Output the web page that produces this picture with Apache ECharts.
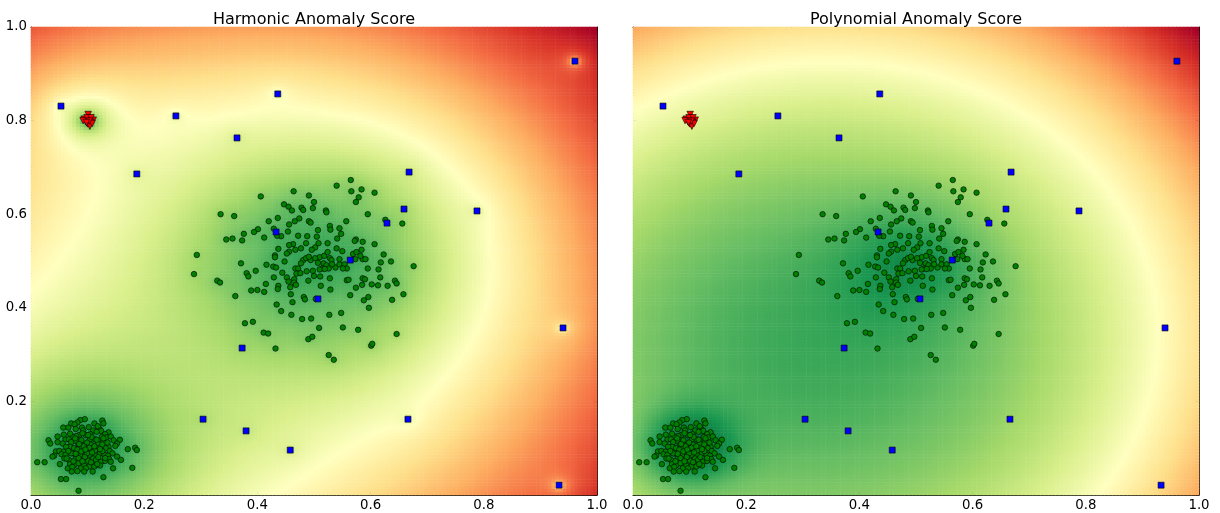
<!DOCTYPE html>
<html>
<head>
<meta charset="utf-8">
<script src="https://cdn.jsdelivr.net/npm/echarts@6/dist/echarts.min.js"></script>
<style>
  html, body { margin: 0; padding: 0; background: #fff; }
  #chart { width: 1220px; height: 513px; }
</style>
</head>
<body>
<div id="chart"></div>
<script>
// ---- sample data -------------------------------------------------------
// wide blob of normal points around (0.5, 0.5)
const broadClusterPts = [
  [0.565,0.673],[0.540,0.661],[0.584,0.653],[0.464,0.649],[0.566,0.649],[0.607,0.646],[0.406,0.638],[0.491,0.640],[0.579,0.636],[0.574,0.626],
  [0.500,0.626],[0.447,0.621],[0.455,0.616],[0.478,0.614],[0.481,0.609],[0.461,0.608],[0.498,0.613],[0.521,0.608],[0.522,0.604],[0.595,0.600],
  [0.335,0.600],[0.359,0.596],[0.436,0.592],[0.474,0.591],[0.466,0.585],[0.491,0.585],[0.494,0.582],[0.420,0.585],[0.557,0.585],[0.626,0.588],
  [0.656,0.580],[0.456,0.578],[0.528,0.575],[0.529,0.567],[0.507,0.566],[0.545,0.570],[0.401,0.568],[0.394,0.562],[0.429,0.569],[0.454,0.563],
  [0.376,0.558],[0.548,0.558],[0.505,0.552],[0.488,0.553],[0.472,0.554],[0.442,0.553],[0.435,0.554],[0.412,0.550],[0.345,0.546],[0.356,0.548],
  [0.373,0.544],[0.541,0.548],[0.574,0.546],[0.572,0.543],[0.586,0.541],[0.607,0.536],[0.524,0.538],[0.508,0.538],[0.486,0.538],[0.463,0.536],
  [0.456,0.534],[0.477,0.527],[0.467,0.524],[0.456,0.520],[0.452,0.516],[0.437,0.526],[0.502,0.529],[0.540,0.527],[0.496,0.524],[0.550,0.521],
  [0.569,0.515],[0.584,0.524],[0.575,0.519],[0.623,0.514],[0.293,0.513],[0.431,0.512],[0.431,0.508],[0.371,0.495],[0.448,0.499],[0.416,0.492],
  [0.428,0.488],[0.433,0.486],[0.467,0.484],[0.472,0.484],[0.481,0.502],[0.486,0.506],[0.477,0.495],[0.494,0.502],[0.491,0.509],[0.510,0.508],
  [0.502,0.506],[0.518,0.511],[0.524,0.519],[0.507,0.496],[0.528,0.506],[0.531,0.502],[0.517,0.495],[0.522,0.491],[0.538,0.486],[0.526,0.484],
  [0.514,0.484],[0.510,0.482],[0.519,0.483],[0.532,0.493],[0.545,0.493],[0.545,0.504],[0.554,0.493],[0.558,0.484],[0.551,0.484],[0.573,0.504],
  [0.586,0.504],[0.591,0.504],[0.582,0.511],[0.618,0.497],[0.636,0.499],[0.595,0.484],[0.614,0.482],[0.676,0.489],[0.288,0.472],[0.381,0.474],
  [0.384,0.467],[0.397,0.479],[0.444,0.475],[0.469,0.473],[0.476,0.474],[0.487,0.478],[0.498,0.479],[0.429,0.465],[0.452,0.465],[0.500,0.468],
  [0.511,0.467],[0.528,0.463],[0.490,0.458],[0.465,0.461],[0.455,0.456],[0.465,0.454],[0.468,0.449],[0.415,0.451],[0.437,0.447],[0.436,0.440],
  [0.458,0.444],[0.329,0.458],[0.334,0.454],[0.389,0.437],[0.400,0.438],[0.412,0.434],[0.558,0.459],[0.561,0.460],[0.574,0.443],[0.585,0.449],
  [0.586,0.463],[0.590,0.461],[0.602,0.450],[0.613,0.448],[0.617,0.465],[0.630,0.447],[0.643,0.458],[0.646,0.452],[0.529,0.439],[0.512,0.447],
  [0.658,0.429],[0.361,0.425],[0.459,0.429],[0.482,0.423],[0.484,0.418],[0.462,0.412],[0.503,0.419],[0.564,0.427],[0.588,0.416],[0.596,0.423],
  [0.638,0.417],[0.434,0.407],[0.442,0.393],[0.460,0.385],[0.527,0.385],[0.548,0.389],[0.597,0.400],[0.378,0.367],[0.392,0.370],[0.479,0.376],
  [0.495,0.377],[0.509,0.357],[0.551,0.358],[0.578,0.353],[0.646,0.344],[0.411,0.347],[0.419,0.345],[0.490,0.333],[0.497,0.338],[0.432,0.313],
  [0.601,0.319],[0.603,0.323],[0.526,0.299],[0.535,0.289]
];

// dense blob of normal points around (0.1, 0.1)
const tightClusterPts = [
  [0.095,0.162],[0.087,0.160],[0.082,0.155],[0.071,0.153],[0.077,0.151],[0.126,0.159],[0.128,0.153],[0.112,0.153],[0.057,0.144],[0.066,0.144],
  [0.090,0.144],[0.079,0.141],[0.092,0.138],[0.110,0.138],[0.121,0.141],[0.124,0.137],[0.116,0.135],[0.137,0.134],[0.131,0.130],[0.105,0.130],
  [0.097,0.128],[0.085,0.128],[0.080,0.126],[0.073,0.125],[0.047,0.125],[0.061,0.119],[0.067,0.119],[0.104,0.119],[0.113,0.119],[0.125,0.124],
  [0.133,0.123],[0.141,0.125],[0.146,0.117],[0.157,0.118],[0.152,0.110],[0.149,0.105],[0.137,0.103],[0.031,0.117],[0.034,0.110],[0.047,0.113],
  [0.056,0.110],[0.071,0.113],[0.080,0.115],[0.084,0.108],[0.094,0.107],[0.106,0.108],[0.118,0.110],[0.127,0.113],[0.065,0.100],[0.069,0.103],
  [0.076,0.100],[0.087,0.100],[0.099,0.098],[0.110,0.100],[0.120,0.101],[0.132,0.100],[0.139,0.094],[0.144,0.089],[0.171,0.098],[0.184,0.101],
  [0.187,0.096],[0.044,0.093],[0.050,0.094],[0.058,0.093],[0.041,0.084],[0.054,0.087],[0.061,0.086],[0.074,0.089],[0.082,0.091],[0.088,0.084],
  [0.096,0.087],[0.104,0.086],[0.113,0.086],[0.122,0.089],[0.130,0.086],[0.136,0.084],[0.152,0.082],[0.159,0.075],[0.038,0.082],[0.059,0.078],
  [0.067,0.075],[0.079,0.078],[0.090,0.075],[0.101,0.073],[0.110,0.078],[0.115,0.075],[0.124,0.071],[0.131,0.073],[0.138,0.077],[0.051,0.066],
  [0.069,0.066],[0.077,0.064],[0.084,0.068],[0.094,0.063],[0.103,0.061],[0.113,0.063],[0.122,0.063],[0.011,0.070],[0.024,0.070],[0.065,0.057],
  [0.073,0.060],[0.088,0.057],[0.097,0.057],[0.112,0.061],[0.082,0.051],[0.072,0.050],[0.094,0.050],[0.109,0.050],[0.145,0.057],[0.179,0.058],
  [0.053,0.034],[0.062,0.034],[0.128,0.038],[0.084,0.009],
  [0.078,0.121],[0.089,0.117],[0.099,0.112],[0.107,0.124],[0.116,0.118],[0.093,0.104],[0.103,0.101],[0.113,0.095],[0.082,0.097],[0.071,0.089],
  [0.089,0.093],[0.099,0.089],[0.108,0.091],[0.119,0.081],[0.126,0.094],[0.084,0.079],[0.095,0.081],[0.106,0.070],[0.117,0.066],[0.126,0.108],
  [0.062,0.103],[0.066,0.094],[0.075,0.072],[0.135,0.112],[0.141,0.071],[0.102,0.145],[0.118,0.147],[0.069,0.131],[0.058,0.129],[0.128,0.121],
  [0.091,0.132],[0.101,0.128],[0.085,0.109],[0.096,0.097],[0.112,0.104],[0.122,0.098],[0.079,0.088],[0.091,0.072],[0.131,0.079],[0.063,0.078]
];

// small tight group near (0.1, 0.8), several markers overlap
const redGroupPts = [
  [0.101,0.813],[0.094,0.803],[0.102,0.803],[0.110,0.801],[0.097,0.798],
  [0.105,0.797],[0.100,0.793],[0.104,0.788],[0.108,0.794],[0.092,0.800],
  [0.099,0.806],[0.106,0.806],[0.103,0.799],[0.098,0.796]
];

// isolated points
const outlierPts = [
  [0.053,0.831],[0.256,0.810],[0.436,0.857],[0.364,0.763],[0.187,0.686],[0.668,0.690],[0.961,0.927],[0.659,0.611],[0.788,0.607],[0.629,0.581],
  [0.433,0.562],[0.564,0.502],[0.507,0.419],[0.373,0.314],[0.940,0.357],[0.304,0.162],[0.380,0.137],[0.666,0.162],[0.458,0.096],[0.933,0.021]
];

const panelTitles = ['Harmonic Anomaly Score', 'Polynomial Anomaly Score'];
const axisRange = [0, 1];
const tickStep = 0.2;

// RdYlGn reversed: low score = green, high score = red
const scoreColors = ['#006837','#1a9850','#66bd63','#a6d96a','#d9ef8b','#ffffbf',
                     '#fee08b','#fdae61','#f46d43','#d73027','#a50026'];

// ---- score fields -------------------------------------------------------
const GRID_N = 150;
const cellIdx = Array.from({ length: GRID_N }, (_, i) => i);

const allPts = broadClusterPts.concat(tightClusterPts, redGroupPts, outlierPts);
const clusterPts = broadClusterPts.concat(tightClusterPts);

// harmonic mean of the distances to every sample point
function harmonicScore(x, y) {
  let inv = 0;
  for (let k = 0; k < allPts.length; k++) {
    const dx = x - allPts[k][0], dy = y - allPts[k][1];
    inv += 1 / Math.sqrt(dx * dx + dy * dy + 1e-8);
  }
  return allPts.length / inv;
}

// very wide (near-quadratic) term plus a soft local term
function polynomialScore(x, y) {
  let dens = 0;
  for (let k = 0; k < clusterPts.length; k++) {
    const dx = x - clusterPts[k][0], dy = y - clusterPts[k][1];
    const d2 = dx * dx + dy * dy;
    dens += Math.exp(-d2 / 2) + 0.35 * Math.exp(-d2 / 0.005);
  }
  return -Math.log(dens);
}

// scale a field to 0..1; fixedLo = null means min of the grid
function scoreField(fn, fixedLo) {
  const raw = [];
  let lo = Infinity, hi = -Infinity;
  for (let j = 0; j < GRID_N; j++) {
    const y = (j + 0.5) / GRID_N;
    for (let i = 0; i < GRID_N; i++) {
      const x = (i + 0.5) / GRID_N;
      const s = fn(x, y);
      raw.push([i, j, s]);
      if (s < lo) lo = s;
      if (s > hi) hi = s;
    }
  }
  if (fixedLo !== null) lo = fixedLo;
  return raw.map(c => [c[0], c[1], (c[2] - lo) / (hi - lo)]);
}

const fields = [scoreField(harmonicScore, 0), scoreField(polynomialScore, null)];

// ---- layout -------------------------------------------------------------
const FONT = 'DejaVu Sans';
const panels = [
  { left: 31, top: 27, width: 566, height: 468 },
  { left: 633, top: 27, width: 566, height: 468 }
];

const lineStyle = { color: '#111', width: 1 };
const tickStyle = { show: true, inside: true, length: 4, lineStyle: { color: '#000', width: 1 } };
const fmt = v => v.toFixed(1);

const xAxis = [], yAxis = [], grid = [], series = [], graphic = [];

panels.forEach((p, g) => {
  grid.push({ left: p.left, top: p.top, width: p.width, height: p.height, containLabel: false });
  const base = g * 3;

  // bottom / top value axes
  xAxis.push({
    gridIndex: g, type: 'value', position: 'bottom', min: axisRange[0], max: axisRange[1], interval: tickStep,
    axisLine: { show: true, onZero: false, lineStyle },
    axisTick: tickStyle, splitLine: { show: false },
    axisLabel: { show: true, margin: 4, color: '#000', fontSize: 13.3, fontFamily: FONT, formatter: fmt }
  });
  xAxis.push({
    gridIndex: g, type: 'value', position: 'top', min: axisRange[0], max: axisRange[1], interval: tickStep,
    axisLine: { show: true, onZero: false, lineStyle },
    axisTick: tickStyle, splitLine: { show: false }, axisLabel: { show: false }
  });
  xAxis.push({ gridIndex: g, type: 'category', data: cellIdx, show: false, boundaryGap: true });

  // left / right value axes
  yAxis.push({
    gridIndex: g, type: 'value', position: 'left', min: axisRange[0], max: axisRange[1], interval: tickStep,
    axisLine: { show: true, onZero: false, lineStyle },
    axisTick: tickStyle, splitLine: { show: false },
    axisLabel: { show: g === 0, showMinLabel: false, margin: 4, color: '#000', fontSize: 13.3, fontFamily: FONT, formatter: fmt }
  });
  yAxis.push({
    gridIndex: g, type: 'value', position: 'right', min: axisRange[0], max: axisRange[1], interval: tickStep,
    axisLine: { show: true, onZero: false, lineStyle },
    axisTick: tickStyle, splitLine: { show: false }, axisLabel: { show: false }
  });
  yAxis.push({ gridIndex: g, type: 'category', data: cellIdx, show: false, boundaryGap: true });

  series.push({
    type: 'heatmap', name: panelTitles[g] + ' field',
    xAxisIndex: base + 2, yAxisIndex: base + 2,
    data: fields[g], progressive: 0, silent: true, z: 1,
    itemStyle: { borderWidth: 0 }, emphasis: { disabled: true }
  });

  graphic.push({
    type: 'text', x: p.left + p.width / 2, y: 19.5, z: 100,
    style: {
      text: panelTitles[g], fill: '#000', font: '16px "' + FONT + '"',
      align: 'center', verticalAlign: 'middle', textAlign: 'center', textVerticalAlign: 'middle'
    }
  });
});

// scatter layers (after both heatmaps so visualMap indices stay 0 and 1)
panels.forEach((p, g) => {
  const base = g * 3;
  const common = { type: 'scatter', xAxisIndex: base, yAxisIndex: base, silent: true, z: 5 };
  series.push(Object.assign({}, common, {
    name: 'clusters', data: broadClusterPts.concat(tightClusterPts), symbol: 'circle', symbolSize: 5.5,
    itemStyle: { color: '#008000', borderColor: '#000', borderWidth: 0.6, opacity: 1 }
  }));
  series.push(Object.assign({}, common, {
    name: 'group', data: redGroupPts, symbol: 'triangle', symbolRotate: 180, symbolSize: 6.5,
    itemStyle: { color: '#ff0000', borderColor: '#000', borderWidth: 0.6, opacity: 1 }
  }));
  series.push(Object.assign({}, common, {
    name: 'outliers', data: outlierPts, symbol: 'rect', symbolSize: 6,
    itemStyle: { color: '#0000ff', borderColor: '#000', borderWidth: 0.6, opacity: 1 }
  }));
});

const chart = echarts.init(document.getElementById('chart'), null, { renderer: 'canvas' });
chart.setOption({
  animation: false,
  backgroundColor: '#fff',
  grid, xAxis, yAxis, series, graphic,
  visualMap: [{
    type: 'continuous', show: false, min: 0, max: 1, dimension: 2,
    seriesIndex: [0, 1], inRange: { color: scoreColors }
  }]
});
</script>
</body>
</html>
